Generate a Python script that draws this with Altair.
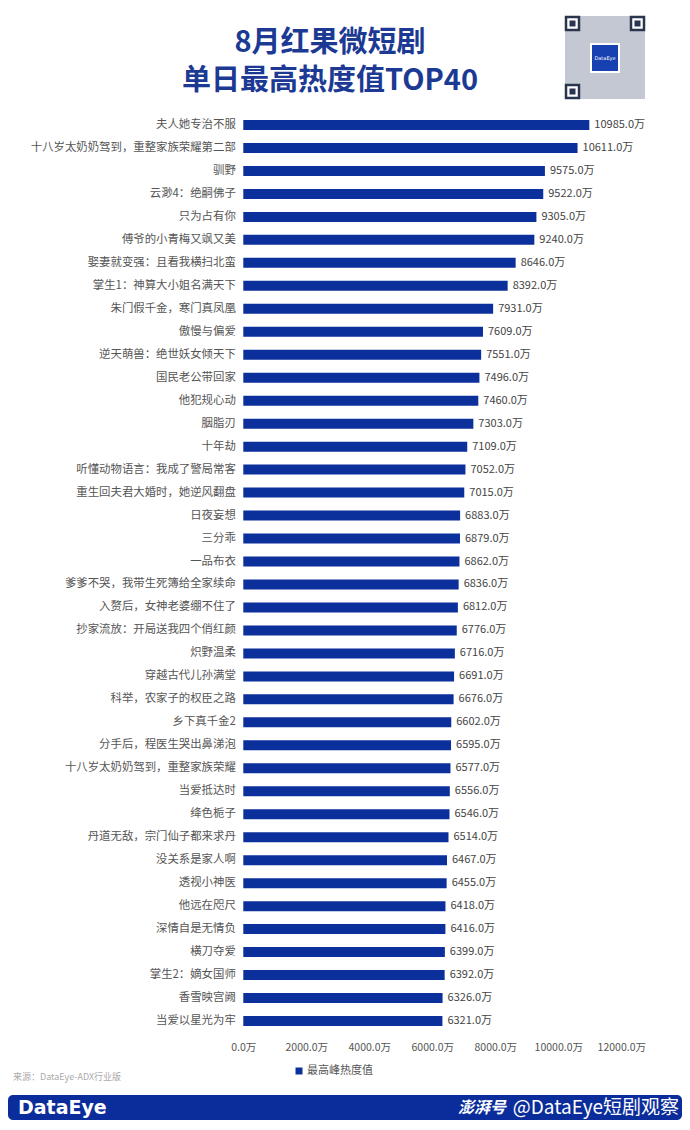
import altair as alt
import pandas as pd

# ---------------- data ----------------
names = [
    "夫人她专治不服", "十八岁太奶奶驾到，重整家族荣耀第二部", "驯野", "云渺4：绝嗣佛子",
    "只为占有你", "傅爷的小青梅又飒又美", "娶妻就变强：且看我横扫北蛮", "掌生1：神算大小姐名满天下",
    "朱门假千金，寒门真凤凰", "傲慢与偏爱", "逆天萌兽：绝世妖女倾天下", "国民老公带回家",
    "他犯规心动", "胭脂刃", "十年劫", "听懂动物语言：我成了警局常客",
    "重生回夫君大婚时，她逆风翻盘", "日夜妄想", "三分乖", "一品布衣",
    "爹爹不哭，我带生死簿给全家续命", "入赘后，女神老婆绷不住了", "抄家流放：开局送我四个俏红颜", "炽野温柔",
    "穿越古代儿孙满堂", "科举，农家子的权臣之路", "乡下真千金2", "分手后，程医生哭出鼻涕泡",
    "十八岁太奶奶驾到，重整家族荣耀", "当爱抵达时", "绛色栀子", "丹道无敌，宗门仙子都来求丹",
    "没关系是家人啊", "透视小神医", "他远在咫尺", "深情自是无情负",
    "横刀夺爱", "掌生2：嫡女国师", "香雪映宫阙", "当爱以星光为牢",
]
values = [
    10985, 10611, 9575, 9522,
    9305, 9240, 8646, 8392,
    7931, 7609, 7551, 7496,
    7460, 7303, 7109, 7052,
    7015, 6883, 6879, 6862,
    6836, 6812, 6776, 6716,
    6691, 6676, 6602, 6595,
    6577, 6556, 6546, 6514,
    6467, 6455, 6418, 6416,
    6399, 6392, 6326, 6321,
]
x_ticks = [0, 2000, 4000, 6000, 8000, 10000, 12000]

title_lines = ["8月红果微短剧", "单日最高热度值TOP40"]
legend_label = "最高峰热度值"
source_text = "来源：DataEye-ADX行业版"
footer_left = "DataEye"
footer_brand = "澎湃号"
footer_right = "@DataEye短剧观察"

df = pd.DataFrame({"name": names, "value": values})

FONT = "Noto Sans CJK SC"
BLUE = "#0b2f9b"
TITLE_BLUE = "#1c3a94"

W, H = 378, 919
PAD_L, PAD_T = 235.3, 105.5
PAD_R = 674 - PAD_L - W
PAD_B = 1114 - PAD_T - H


def one():
    return alt.Data(values=[{"a": 1}])


def px(v):
    return v - 8 - PAD_L


def py(v):
    return v - 8 - PAD_T


x_enc = alt.X(
    "value:Q",
    scale=alt.Scale(domain=[0, 12000], nice=False),
    axis=alt.Axis(
        values=x_ticks, title=None, grid=False, ticks=False, domain=False,
        labelExpr="format(datum.value, '.1f') + '万'", labelOverlap=False, labelFlush=False,
        labelFont=FONT, labelFontSize=10.5, labelColor="#555555", labelPadding=10, zindex=2,
    ),
)
y_enc = alt.Y(
    "name:N", sort=None,
    scale=alt.Scale(paddingInner=0, paddingOuter=0),
    axis=alt.Axis(
        title=None, ticks=False, domain=False, labelPadding=8, labelOverlap=False,
        labelFont=FONT, labelFontSize=11.4, labelColor="#555555", labelLimit=300, zindex=2,
    ),
)

bars = alt.Chart(df).mark_bar(size=10, color=BLUE).encode(x=x_enc, y=y_enc)

labels = (
    alt.Chart(df)
    .transform_calculate(lab="format(datum.value, '.1f') + '万'")
    .mark_text(align="left", baseline="middle", dx=5, font=FONT, fontSize=11, color="#444444")
    .encode(x="value:Q", y=alt.Y("name:N", sort=None), text="lab:N")
)

# title
title1 = alt.Chart(one()).mark_text(
    text=title_lines[0], font=FONT, fontSize=29, fontWeight="bold", color=TITLE_BLUE,
    align="center", baseline="middle",
).encode(x=alt.value(px(330)), y=alt.value(py(43)))
title2 = alt.Chart(one()).mark_text(
    text=title_lines[1], font=FONT, fontSize=29, fontWeight="bold", color=TITLE_BLUE,
    align="center", baseline="middle",
).encode(x=alt.value(px(330)), y=alt.value(py(81)))

# QR-code like box
qr_bg = alt.Chart(one()).mark_rect(color="#c4c8d2").encode(
    x=alt.value(px(565)), x2=alt.value(px(645)), y=alt.value(py(16)), y2=alt.value(py(99)))
finders = []
for fx, fy in [(565, 16), (630, 16), (565, 84)]:
    finders.append(alt.Chart(one()).mark_rect(color="white", stroke="#2a3550", strokeWidth=2.5).encode(
        x=alt.value(px(fx + 1)), x2=alt.value(px(fx + 14)), y=alt.value(py(fy + 1)), y2=alt.value(py(fy + 14))))
    finders.append(alt.Chart(one()).mark_rect(color="#2a3550").encode(
        x=alt.value(px(fx + 4.5)), x2=alt.value(px(fx + 10.5)), y=alt.value(py(fy + 4.5)), y2=alt.value(py(fy + 10.5))))
qr_center = alt.Chart(one()).mark_rect(color="#1740b0", stroke="white", strokeWidth=2).encode(
    x=alt.value(px(591)), x2=alt.value(px(619)), y=alt.value(py(44)), y2=alt.value(py(72)))
qr_txt = alt.Chart(one()).mark_text(text="DataEye", font="DejaVu Sans", fontSize=5, color="white").encode(
    x=alt.value(px(605)), y=alt.value(py(58)))

# legend
leg_sq = alt.Chart(one()).mark_square(size=49, color=BLUE, opacity=1).encode(
    x=alt.value(px(299)), y=alt.value(py(1071)))
leg_txt = alt.Chart(one()).mark_text(
    text=legend_label, font=FONT, fontSize=11, color="#555555", align="left", baseline="middle"
).encode(x=alt.value(px(307)), y=alt.value(py(1071)))

# source
src = alt.Chart(one()).mark_text(
    text=source_text, font=FONT, fontSize=9, color="#aaaaaa", align="left", baseline="middle"
).encode(x=alt.value(px(13)), y=alt.value(py(1077)))

# footer banner
banner = alt.Chart(one()).mark_rect(color="#0a2d9b", cornerRadius=5).encode(
    x=alt.value(px(8)), x2=alt.value(px(682)), y=alt.value(py(1095)), y2=alt.value(py(1120)))
ft_left = alt.Chart(one()).mark_text(
    text=footer_left, font="DejaVu Sans", fontSize=19, fontWeight="bold", color="white",
    align="left", baseline="middle"
).encode(x=alt.value(px(18)), y=alt.value(py(1108)))
ft_right = alt.Chart(one()).mark_text(
    text=footer_right, font=FONT, fontSize=19, color="white", align="right", baseline="middle"
).encode(x=alt.value(px(679)), y=alt.value(py(1108)))
ft_brand = alt.Chart(one()).mark_text(
    text=footer_brand, font=FONT, fontSize=16, fontWeight="bold", fontStyle="italic", color="white",
    align="right", baseline="middle"
).encode(x=alt.value(px(506)), y=alt.value(py(1108)))

chart = alt.layer(
    bars, labels, title1, title2, qr_bg, *finders, qr_center, qr_txt,
    leg_sq, leg_txt, src, banner, ft_left, ft_right, ft_brand,
).properties(
    width=W, height=H,
    autosize=alt.AutoSizeParams(type="none"),
    padding={"left": PAD_L, "top": PAD_T, "right": PAD_R, "bottom": PAD_B},
    background="white",
).configure_view(stroke=None, clip=False)

chart.save("out.html", embed_options={"renderer": "svg", "actions": False})
